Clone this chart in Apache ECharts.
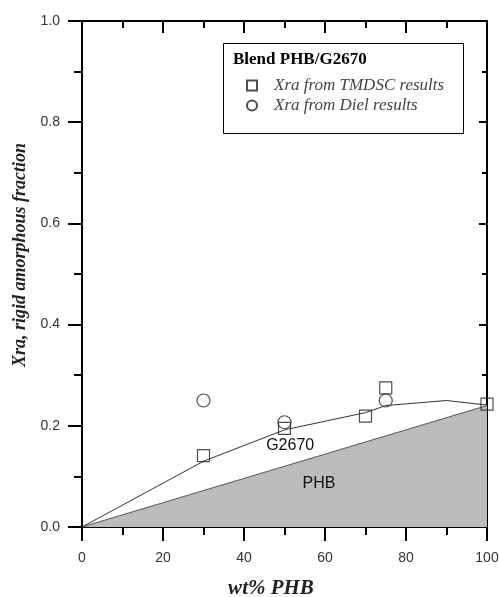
<!DOCTYPE html>
<html>
<head>
<meta charset="utf-8">
<script src="https://cdn.jsdelivr.net/npm/echarts@6/dist/echarts.min.js"></script>
<style>html,body{margin:0;padding:0;background:#fff;}#c{width:499px;height:597px;}</style>
</head>
<body>
<div id="c"></div>
<script>
// Data
const phbLine = [[0, 0], [100, 0.24]];
const g2670Curve = [[0, 0], [30, 0.13], [50, 0.192], [70, 0.226], [75, 0.24], [90, 0.25], [100, 0.241]];
const tmdscPoints = [[30, 0.141], [50, 0.195], [70, 0.219], [75, 0.275], [100, 0.243]];
const dielPoints = [[30, 0.25], [50, 0.207], [75, 0.25]];
const xTicks = [0, 20, 40, 60, 80, 100];
const yTicks = [0.0, 0.2, 0.4, 0.6, 0.8, 1.0];
const regionLabels = [{ name: 'G2670', coord: [51.4, 0.16] }, { name: 'PHB', coord: [58.5, 0.085] }];

const chart = echarts.init(document.getElementById('c'), null, { renderer: 'canvas' });
const axisLineStyle = { color: '#000', width: 2 };
const serif = '"Liberation Serif", "Times New Roman", serif';
const sans = '"Liberation Sans", Arial, sans-serif';

const option = {
  animation: false,
  backgroundColor: '#fff',
  grid: { left: 82, right: 12, top: 21, bottom: 70, containLabel: false, outerBoundsMode: 'none' },
  xAxis: [
    {
      type: 'value', min: 0, max: 100, interval: 20, position: 'bottom',
      name: 'wt% PHB', nameLocation: 'middle', nameGap: 51,
      nameTextStyle: { fontFamily: serif, fontStyle: 'italic', fontWeight: 'bold', fontSize: 21, color: '#222', padding: [0, 27, 0, 0] },
      axisLine: { show: true, onZero: false, lineStyle: axisLineStyle },
      axisTick: { show: true, inside: false, length: 14, lineStyle: axisLineStyle },
      minorTick: { show: true, splitNumber: 2, length: 8, lineStyle: axisLineStyle },
      axisLabel: { margin: 24, fontFamily: sans, fontSize: 14, color: '#333', formatter: v => xTicks.includes(v) ? String(v) : '' },
      splitLine: { show: false }
    },
    {
      type: 'value', min: 0, max: 100, interval: 20, position: 'top',
      axisLine: { show: true, onZero: false, lineStyle: axisLineStyle },
      axisTick: { show: true, inside: true, length: 12, lineStyle: axisLineStyle },
      minorTick: { show: true, splitNumber: 2, length: 7, lineStyle: axisLineStyle },
      axisLabel: { show: false },
      splitLine: { show: false }
    }
  ],
  yAxis: [
    {
      type: 'value', min: 0, max: 1, interval: 0.2, position: 'left',
      name: 'Xra, rigid amorphous fraction', nameLocation: 'middle', nameGap: 52, nameRotate: 90,
      nameTextStyle: { fontFamily: serif, fontStyle: 'italic', fontWeight: 'bold', fontSize: 18, color: '#222', padding: [0, 0, 0, 38] },
      axisLine: { show: true, onZero: false, lineStyle: axisLineStyle },
      axisTick: { show: true, inside: false, length: 14, lineStyle: axisLineStyle },
      minorTick: { show: true, splitNumber: 2, length: 8, lineStyle: axisLineStyle },
      axisLabel: { margin: 22, fontFamily: sans, fontSize: 14, color: '#333', formatter: v => v.toFixed(1) },
      splitLine: { show: false }
    },
    {
      type: 'value', min: 0, max: 1, interval: 0.2, position: 'right',
      axisLine: { show: true, onZero: false, lineStyle: axisLineStyle },
      axisTick: { show: true, inside: true, length: 8, lineStyle: axisLineStyle },
      minorTick: { show: true, splitNumber: 2, length: 5, lineStyle: axisLineStyle },
      axisLabel: { show: false },
      splitLine: { show: false }
    }
  ],
  legend: {
    orient: 'vertical', left: 241, top: 72, itemWidth: 10, itemHeight: 10, itemGap: 3,
    data: ['Xra from TMDSC results', 'Xra from Diel results'],
    textStyle: { fontFamily: serif, fontStyle: 'italic', fontSize: 17, color: '#444', padding: [0, 0, 0, 12] }
  },
  graphic: [
    { type: 'rect', left: 223, top: 43, shape: { width: 240, height: 90 }, style: { fill: '#fff', stroke: '#000', lineWidth: 1 }, z: 0 },
    { type: 'text', left: 233, top: 51, style: { text: 'Blend PHB/G2670', font: 'bold 17px ' + serif, fill: '#000' }, z: 1 }
  ],
  series: [
    {
      name: 'PHB', type: 'line', data: phbLine, symbol: 'none', z: 1,
      lineStyle: { color: '#555', width: 1 },
      areaStyle: { color: '#bcbcbc', opacity: 1 },
      markPoint: {
        symbol: 'circle', symbolSize: 0,
        label: { show: true, position: 'inside', formatter: p => p.name, fontFamily: sans, fontSize: 16, color: '#111' },
        data: regionLabels
      }
    },
    {
      name: 'G2670', type: 'line', data: g2670Curve, symbol: 'none', z: 2,
      lineStyle: { color: '#333', width: 1 }
    },
    {
      name: 'Xra from TMDSC results', type: 'scatter', data: tmdscPoints, symbol: 'rect', symbolSize: 12, z: 3,
      itemStyle: { color: 'rgba(255,255,255,0)', borderColor: '#222', borderWidth: 1.2 }
    },
    {
      name: 'Xra from Diel results', type: 'scatter', data: dielPoints, symbol: 'circle', symbolSize: 13, z: 3,
      itemStyle: { color: 'rgba(255,255,255,0)', borderColor: '#222', borderWidth: 1.2 }
    }
  ]
};
chart.setOption(option);
</script>
</body>
</html>
